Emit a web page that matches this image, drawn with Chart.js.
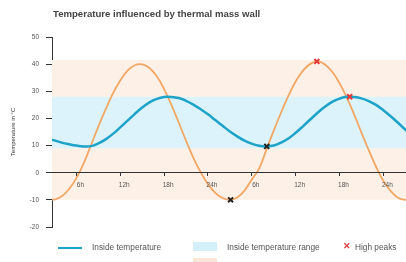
<!DOCTYPE html>
<html>
<head>
<meta charset="utf-8">
<script src="https://cdn.jsdelivr.net/npm/chart.js@4"></script>
<style>
  body { margin: 0; background: #fff; font-family: "Liberation Sans", Arial, sans-serif; }
  #wrap { position: relative; width: 406px; height: 262px; overflow: hidden; }
  #title { position: absolute; left: 53px; top: 8px; font-size: 9.6px; font-weight: bold; color: #444; white-space: nowrap; }
  .lg { position: absolute; font-size: 8.3px; color: #555; white-space: nowrap; line-height: 9px; }
  .sw { position: absolute; }
</style>
</head>
<body>
<div id="wrap">
  <canvas id="chart" width="406" height="262"></canvas>
  <div id="title">Temperature influenced by thermal mass wall</div>

  <div class="sw" style="left:58px;top:247px;width:24px;height:2px;background:#1ea3c8"></div>
  <div class="lg" style="left:92px;top:243px">Inside temperature</div>
  <div class="sw" style="left:193px;top:242px;width:24px;height:9px;background:#d3effa"></div>
  <div class="lg" style="left:227px;top:243px">Inside temperature range</div>
  <div class="lg" style="left:343px;top:242px;color:#e03a3a;font-weight:bold;font-size:9px">✕</div>
  <div class="lg" style="left:355px;top:243px">High peaks</div>

  <div class="sw" style="left:58px;top:266px;width:24px;height:2px;background:#f2a765"></div>
  <div class="lg" style="left:92px;top:263px">Outside temperature</div>
  <div class="sw" style="left:193px;top:258px;width:24px;height:9px;background:#fde6d5"></div>
  <div class="lg" style="left:227px;top:263px">Outside temperature range</div>
  <div class="lg" style="left:343px;top:263px;color:#222;font-weight:bold;font-size:9px">✕</div>
  <div class="lg" style="left:355px;top:263px">Low peaks</div>
</div>

<script>
// hours since midnight of day one
const hours = [2, 3, 4, 5, 6, 7, 8, 9, 10, 11, 12, 13, 14, 15, 16, 17, 18, 19, 20, 21, 22, 23, 24, 25, 26,
               27, 28, 29, 30, 31, 32, 33, 34, 35, 36, 37, 38, 39, 40, 41, 42, 43, 44, 45, 46, 47, 48, 49, 50, 51, 52];
const insideTemp = [12.6, 11.9, 11.1, 10.5, 10.0, 9.7, 9.8, 10.8, 12.3, 14.3, 16.7, 19.2, 21.7, 24.0, 25.9, 27.2, 27.9,
                    27.9, 27.5, 26.5, 25.1, 23.4, 21.5, 19.4, 17.3, 15.2, 13.4, 11.8, 10.7, 9.9, 9.7,
                    10.0, 11.1, 12.6, 14.7, 17.1, 19.6, 22.1, 24.3, 26.1, 27.3, 28.0,
                    27.9, 27.4, 26.4, 25.0, 23.0, 20.8, 18.4, 15.9, 13.4];
const outsideTemp = [-9.7, -9.9, -8.7, -6.0, -2.0, 3.5, 10.2, 17.0, 23.3, 29.2, 34.0, 37.6, 39.6, 39.9,
                     38.6, 35.5, 30.8, 25.0, 18.5, 11.8, 5.5, 0.2, -4.2, -7.4, -9.3, -10.0,
                     -9.1, -6.6, -2.5, 1.5, 8.5, 15.5, 22.1, 28.3, 33.6, 37.6, 40.1, 41.0,
                     39.9, 37.2, 33.0, 27.7, 21.5, 14.8, 8.3, 2.2, -3.0, -6.7, -9.2, -10.0, -9.8];

const highPeakHours = [38.9, 43.4];
const highPeakTemps = [41, 28];
const lowPeakHours = [27.1, 32.05];
const lowPeakTemps = [-10, 9.7];

const insideRange = [9, 28];
const outsideRange = [-10, 41.5];

const yTicks = [-20, -10, 0, 10, 20, 30, 40, 50];
const xTicks = [6, 12, 18, 24, 30, 36, 42, 48];

const pts = (xs, ys) => xs.map((x, i) => ({ x: x, y: ys[i] }));
const band = (r) => [{ x: hours[0], y: r[1] }, { x: hours[hours.length - 1], y: r[1] }];

new Chart(document.getElementById("chart"), {
    type: "line",
    data: {
        datasets: [
            {
                label: "High peaks",
                data: pts(highPeakHours, highPeakTemps),
                showLine: false,
                pointStyle: "crossRot",
                pointRadius: 3.5,
                pointBorderWidth: 2,
                borderColor: "#e03a3a",
                order: 0,
            },
            {
                label: "Low peaks",
                data: pts(lowPeakHours, lowPeakTemps),
                showLine: false,
                pointStyle: "crossRot",
                pointRadius: 3.5,
                pointBorderWidth: 2,
                borderColor: "#222",
                order: 0,
            },
            {
                label: "Inside temperature",
                data: pts(hours, insideTemp),
                borderColor: "#1ea3c8",
                borderWidth: 2.5,
                pointRadius: 0,
                tension: 0.4,
                order: 1,
            },
            {
                label: "Outside temperature",
                data: pts(hours, outsideTemp),
                borderColor: "#f2a765",
                borderWidth: 1.8,
                pointRadius: 0,
                tension: 0.4,
                order: 2,
            },
            {
                label: "Inside temperature range",
                data: band(insideRange),
                borderWidth: 0,
                pointRadius: 0,
                backgroundColor: "#ddf3fb",
                fill: { value: insideRange[0] },
                order: 3,
            },
            {
                label: "Outside temperature range",
                data: band(outsideRange),
                borderWidth: 0,
                pointRadius: 0,
                backgroundColor: "#fdf0e6",
                fill: { value: outsideRange[0] },
                order: 4,
            },
        ],
    },
    options: {
        responsive: false,
        animation: false,
        layout: {
            autoPadding: false,
            padding: { top: 37, bottom: 35, left: 0, right: 0 },
        },
        plugins: {
            legend: { display: false },
            title: { display: false },
            tooltip: { enabled: false },
        },
        scales: {
            x: {
                type: "linear",
                position: { y: 0 },
                min: 2.66,
                max: 51.1,
                afterBuildTicks: (s) => { s.ticks = xTicks.map((v) => ({ value: v })); },
                afterFit: (s) => { s.height = 0; s.paddingRight = 0; s.paddingLeft = 0; },
                border: { color: "#333", width: 1, z: 1 },
                grid: { drawOnChartArea: false, tickLength: 3, color: "#333", z: 1 },
                ticks: {
                    z: 1,
                    autoSkip: false,
                    maxRotation: 0,
                    labelOffset: 4,
                    padding: 6,
                    color: "#555",
                    font: { size: 6.5, family: "Liberation Sans" },
                    callback: (v) => (((v - 1) % 24) + 1) + "h",
                },
            },
            y: {
                min: yTicks[0],
                max: yTicks[yTicks.length - 1],
                afterFit: (s) => { s.width = 52; },
                afterBuildTicks: (s) => { s.ticks = yTicks.map((v) => ({ value: v })); },
                border: { color: "#333", width: 1 },
                grid: { drawOnChartArea: false, tickLength: 6, color: "#333" },
                ticks: {
                    padding: 7,
                    color: "#555",
                    font: { size: 6.5, family: "Liberation Sans" },
                },
                title: {
                    display: true,
                    text: "Temperature in °C",
                    color: "#333",
                    font: { size: 6, family: "Liberation Sans" },
                    padding: { top: 10, bottom: 0 },
                },
            },
        },
    },
});
</script>
</body>
</html>
